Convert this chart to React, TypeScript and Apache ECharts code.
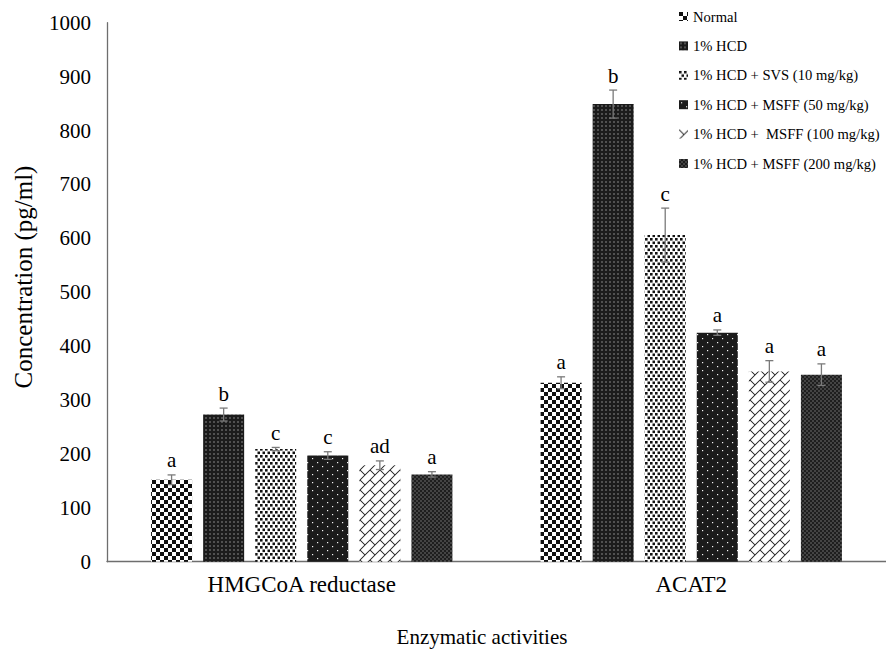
import React, { useEffect, useRef } from "react";
import * as echarts from "echarts";

const categories = ["HMGCoA reductase", "ACAT2"];
const seriesNames = [
  "Normal",
  "1% HCD",
  "1% HCD + SVS (10 mg/kg)",
  "1% HCD + MSFF (50 mg/kg)",
  "1% HCD +  MSFF (100 mg/kg)",
  "1% HCD + MSFF (200 mg/kg)",
];
const normalValues = [152, 332];
const hcdValues = [273, 849];
const svsValues = [209, 606];
const msff50Values = [197, 425];
const msff100Values = [179, 353];
const msff200Values = [162, 347];

const normalErr = [9, 11];
const hcdErr = [12, 26];
const svsErr = [3, 50];
const msff50Err = [7, 5];
const msff100Err = [8, 20];
const msff200Err = [5, 20];

const normalLetters = ["a", "a"];
const hcdLetters = ["b", "b"];
const svsLetters = ["c", "c"];
const msff50Letters = ["c", "a"];
const msff100Letters = ["ad", "a"];
const msff200Letters = ["a", "a"];

const yMin = 0;
const yMax = 1000;
const yInterval = 100;

const FONT = "Liberation Serif";
const BAR_W = 41;
const GAP = 0.27;

function makeTile(w: number, h: number, draw: (ctx: CanvasRenderingContext2D, w: number, h: number) => void) {
  const k = 4;
  const c = document.createElement("canvas");
  c.width = Math.round(w * k);
  c.height = Math.round(h * k);
  const ctx = c.getContext("2d") as CanvasRenderingContext2D;
  ctx.scale(k, k);
  draw(ctx, w, h);
  return { image: c, repeat: "repeat", imageWidth: w, imageHeight: h } as any;
}

function buildPatterns() {
  const checker = makeTile(8, 8, (ctx, w, h) => {
    ctx.fillStyle = "#fff";
    ctx.fillRect(0, 0, w, h);
    ctx.fillStyle = "#111";
    ctx.fillRect(0, 0, 4, 4);
    ctx.fillRect(4, 4, 4, 4);
  });
  const denseDots = makeTile(4, 4, (ctx, w, h) => {
    ctx.fillStyle = "#1b1b1b";
    ctx.fillRect(0, 0, w, h);
    ctx.fillStyle = "#f2f2f2";
    ctx.fillRect(1.5, 1.5, 1, 1);
  });
  const blackSquares = makeTile(5, 7, (ctx, w, h) => {
    ctx.fillStyle = "#fff";
    ctx.fillRect(0, 0, w, h);
    ctx.fillStyle = "#111";
    ctx.fillRect(0, 0, 2.6, 2.6);
    ctx.fillRect(2.5, 3.5, 2.6, 2.6);
  });
  const sparseDots = makeTile(10, 8, (ctx, w, h) => {
    ctx.fillStyle = "#1b1b1b";
    ctx.fillRect(0, 0, w, h);
    ctx.fillStyle = "#f5f5f5";
    ctx.fillRect(2, 2, 1.2, 1.2);
    ctx.fillRect(7, 6, 1.2, 1.2);
  });
  const brick = makeTile(10, 10, (ctx, w, h) => {
    ctx.fillStyle = "#fff";
    ctx.fillRect(0, 0, w, h);
    const rh = 10 / Math.SQRT2;
    const L = 2 * rh;
    ctx.save();
    ctx.rotate(-Math.PI / 4);
    ctx.strokeStyle = "#1a1a1a";
    ctx.lineWidth = 0.9;
    for (let n = -6; n <= 6; n++) {
      ctx.beginPath();
      ctx.moveTo(-60, n * rh);
      ctx.lineTo(60, n * rh);
      ctx.stroke();
      for (let m = -6; m <= 6; m++) {
        const u = m * L + (Math.abs(n) % 2) * (L / 2);
        ctx.beginPath();
        ctx.moveTo(u, n * rh);
        ctx.lineTo(u, (n + 1) * rh);
        ctx.stroke();
      }
    }
    ctx.restore();
  });
  const grayDots = makeTile(4, 4, (ctx, w, h) => {
    ctx.fillStyle = "#1e1e1e";
    ctx.fillRect(0, 0, w, h);
    ctx.fillStyle = "#b8b8b8";
    ctx.fillRect(0.5, 0.5, 1, 1);
    ctx.fillRect(2.5, 2.5, 1, 1);
  });
  return [checker, denseDots, blackSquares, sparseDots, brick, grayDots];
}

export default function App() {
  const ref = useRef<HTMLDivElement>(null);

  useEffect(() => {
    if (!ref.current) return;
    const chart = echarts.init(ref.current, undefined, { renderer: "svg" });
    const patterns = buildPatterns();

    const values = [normalValues, hcdValues, svsValues, msff50Values, msff100Values, msff200Values];
    const errs = [normalErr, hcdErr, svsErr, msff50Err, msff100Err, msff200Err];
    const letters = [normalLetters, hcdLetters, svsLetters, msff50Letters, msff100Letters, msff200Letters];

    const errData: number[][] = [];
    const flatLetters: string[] = [];
    values.forEach((vals, s) => {
      vals.forEach((v, c) => {
        errData.push([c, v, errs[s][c], s]);
        flatLetters.push(letters[s][c]);
      });
    });

    const pitch = BAR_W * (1 + GAP);

    const barSeries = values.map((vals, s) => ({
      type: "bar",
      name: seriesNames[s],
      data: vals,
      barWidth: BAR_W,
      barGap: GAP * 100 + "%",
      itemStyle: { color: patterns[s] },
      emphasis: { disabled: true },
    }));

    const option: any = {
      animation: false,
      textStyle: { fontFamily: FONT },
      grid: { left: 107, top: 22.7, width: 787, height: 539 },
      legend: {
        orient: "vertical",
        left: 679,
        top: 9,
        padding: 0,
        itemWidth: 9,
        itemHeight: 9,
        itemGap: 14.4,
        icon: "rect",
        selectedMode: false,
        data: seriesNames,
        textStyle: { fontFamily: FONT, fontSize: 14.6, lineHeight: 15, color: "#000" },
      },
      xAxis: {
        type: "category",
        data: categories,
        axisLine: { lineStyle: { color: "#6e6e6e", width: 1.3 } },
        axisTick: { show: false },
        axisLabel: { fontFamily: FONT, fontSize: 23, color: "#000", margin: 11 },
      },
      yAxis: {
        type: "value",
        min: yMin,
        max: yMax,
        interval: yInterval,
        axisLine: { show: true, lineStyle: { color: "#6e6e6e", width: 1.3 } },
        axisTick: { show: false },
        splitLine: { show: false },
        axisLabel: {
          fontFamily: FONT,
          fontSize: 21,
          color: "#000",
          margin: 16,
          formatter: (v: number) => String(v),
        },
      },
      graphic: [
        {
          type: "text",
          x: 23,
          y: 277,
          rotation: Math.PI / 2,
          style: {
            text: "Concentration (pg/ml)",
            fontFamily: FONT,
            fontSize: 25,
            fill: "#000",
            align: "center",
            verticalAlign: "middle",
          },
        },
        {
          type: "text",
          x: 482,
          y: 637,
          style: {
            text: "Enzymatic activities",
            fontFamily: FONT,
            fontSize: 21,
            fill: "#000",
            align: "center",
            verticalAlign: "middle",
          },
        },
      ],
      series: [
        ...barSeries,
        {
          type: "custom",
          data: errData,
          encode: { x: 0, y: 1 },
          z: 10,
          silent: true,
          renderItem: (params: any, api: any) => {
            const cat = api.value(0);
            const v = api.value(1);
            const e = api.value(2);
            const s = api.value(3);
            const c = api.coord([cat, v]);
            const t = api.coord([cat, v + e]);
            const b = api.coord([cat, v - e]);
            const x = c[0] + (s - 2.5) * pitch;
            const cap = 4;
            const st = { stroke: "#7a7a7a", lineWidth: 1.3 };
            return {
              type: "group",
              children: [
                { type: "line", shape: { x1: x, y1: t[1], x2: x, y2: b[1] }, style: st },
                { type: "line", shape: { x1: x - cap, y1: t[1], x2: x + cap, y2: t[1] }, style: st },
                { type: "line", shape: { x1: x - cap, y1: b[1], x2: x + cap, y2: b[1] }, style: st },
                {
                  type: "text",
                  x: x,
                  y: t[1] - 4,
                  style: {
                    text: flatLetters[params.dataIndex],
                    fontFamily: FONT,
                    fontSize: 21,
                    fill: "#000",
                    align: "center",
                    verticalAlign: "bottom",
                  },
                },
              ],
            };
          },
        },
      ],
    };

    chart.setOption(option);
    return () => chart.dispose();
  }, []);

  return (
    <div
      ref={ref}
      style={{ position: "absolute", left: 0, top: 0, width: 886, height: 652, background: "#fff" }}
    />
  );
}
